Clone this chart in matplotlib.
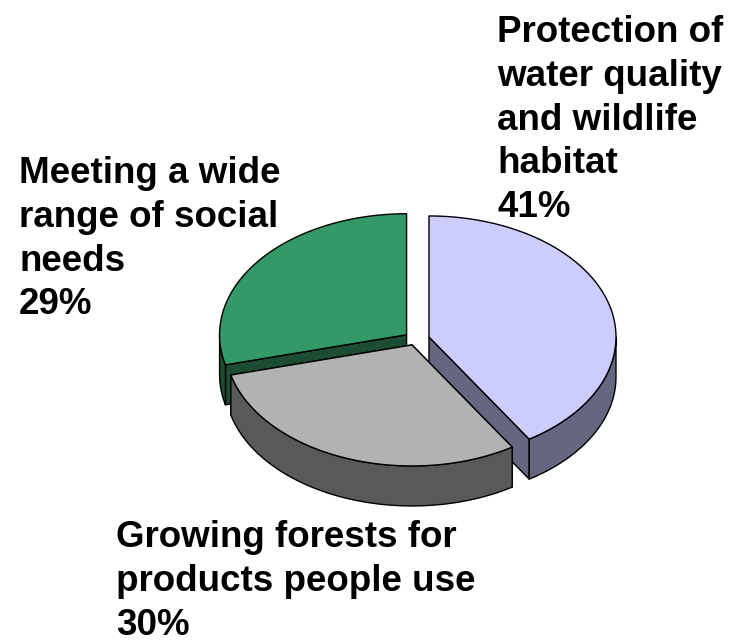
import numpy as np
import matplotlib
matplotlib.use('Agg')
import matplotlib.pyplot as plt
from matplotlib.patches import Polygon

plt.rcParams['font.family'] = ['Liberation Sans', 'DejaVu Sans']

labels = ['Protection of\nwater quality\nand wildlife\nhabitat',
          'Growing forests for\nproducts people use',
          'Meeting a wide\nrange of social\nneeds']
values = [41, 30, 29]
top_colors = ['#CCCCFF', '#B2B2B2', '#339966']
side_colors = ['#666680', '#595959', '#1A4D33']
label_pos = [(497, 15), (116, 520), (19, 156)]

# pie geometry, in figure pixels
CX, CY = 416.7, 338.8
RX, RY = 187, 121
DEPTH = 40
EXPLODE_X, EXPLODE_Y = 12.8, 6.6


def arc_points(apex, t0, t1):
    t = np.radians(np.linspace(t0, t1, 120))
    return np.column_stack([apex[0] + RX * np.sin(t), apex[1] - RY * np.cos(t)])


def draw_slice(ax, t0, t1, top, side, zorder):
    mid = np.radians((t0 + t1) / 2)
    apex = (CX + EXPLODE_X * np.sin(mid), CY - EXPLODE_Y * np.cos(mid))
    down = np.array([0, DEPTH])
    kw = dict(edgecolor='black', linewidth=1.0, joinstyle='round', zorder=zorder)

    # cut faces that turn towards the viewer
    for t in (t0, t1):
        if 90 < t < 270:
            rim = arc_points(apex, t, t)[0]
            face = [apex, rim, rim + down, np.array(apex) + down]
            ax.add_patch(Polygon(face, closed=True, facecolor=side, **kw))

    # outer wall, front half of the rim only
    lo, hi = max(t0, 90), min(t1, 270)
    if lo < hi:
        rim = arc_points(apex, lo, hi)
        wall = np.vstack([rim, rim[::-1] + down])
        ax.add_patch(Polygon(wall, closed=True, facecolor=side, **kw))

    rim = arc_points(apex, t0, t1)
    ax.add_patch(Polygon(np.vstack([[apex], rim]), closed=True, facecolor=top, **kw))


fig = plt.figure(figsize=(7.47, 6.42), dpi=100)
ax = fig.add_axes([0, 0, 1, 1])
ax.set_xlim(0, 747)
ax.set_ylim(642, 0)
ax.axis('off')

edges = np.cumsum([0] + values) / sum(values) * 360
# back slice first so the front ones overlap it
for i, z in zip((2, 0, 1), (2, 3, 4)):
    draw_slice(ax, edges[i], edges[i + 1], top_colors[i], side_colors[i], z)

for text, val, (x, y) in zip(labels, values, label_pos):
    ax.text(x, y, f'{text}\n{val}%', fontsize=26.5, fontweight='bold', color='black',
            ha='left', va='top', linespacing=1.325, zorder=6)

fig.savefig('out.png', dpi=100)
